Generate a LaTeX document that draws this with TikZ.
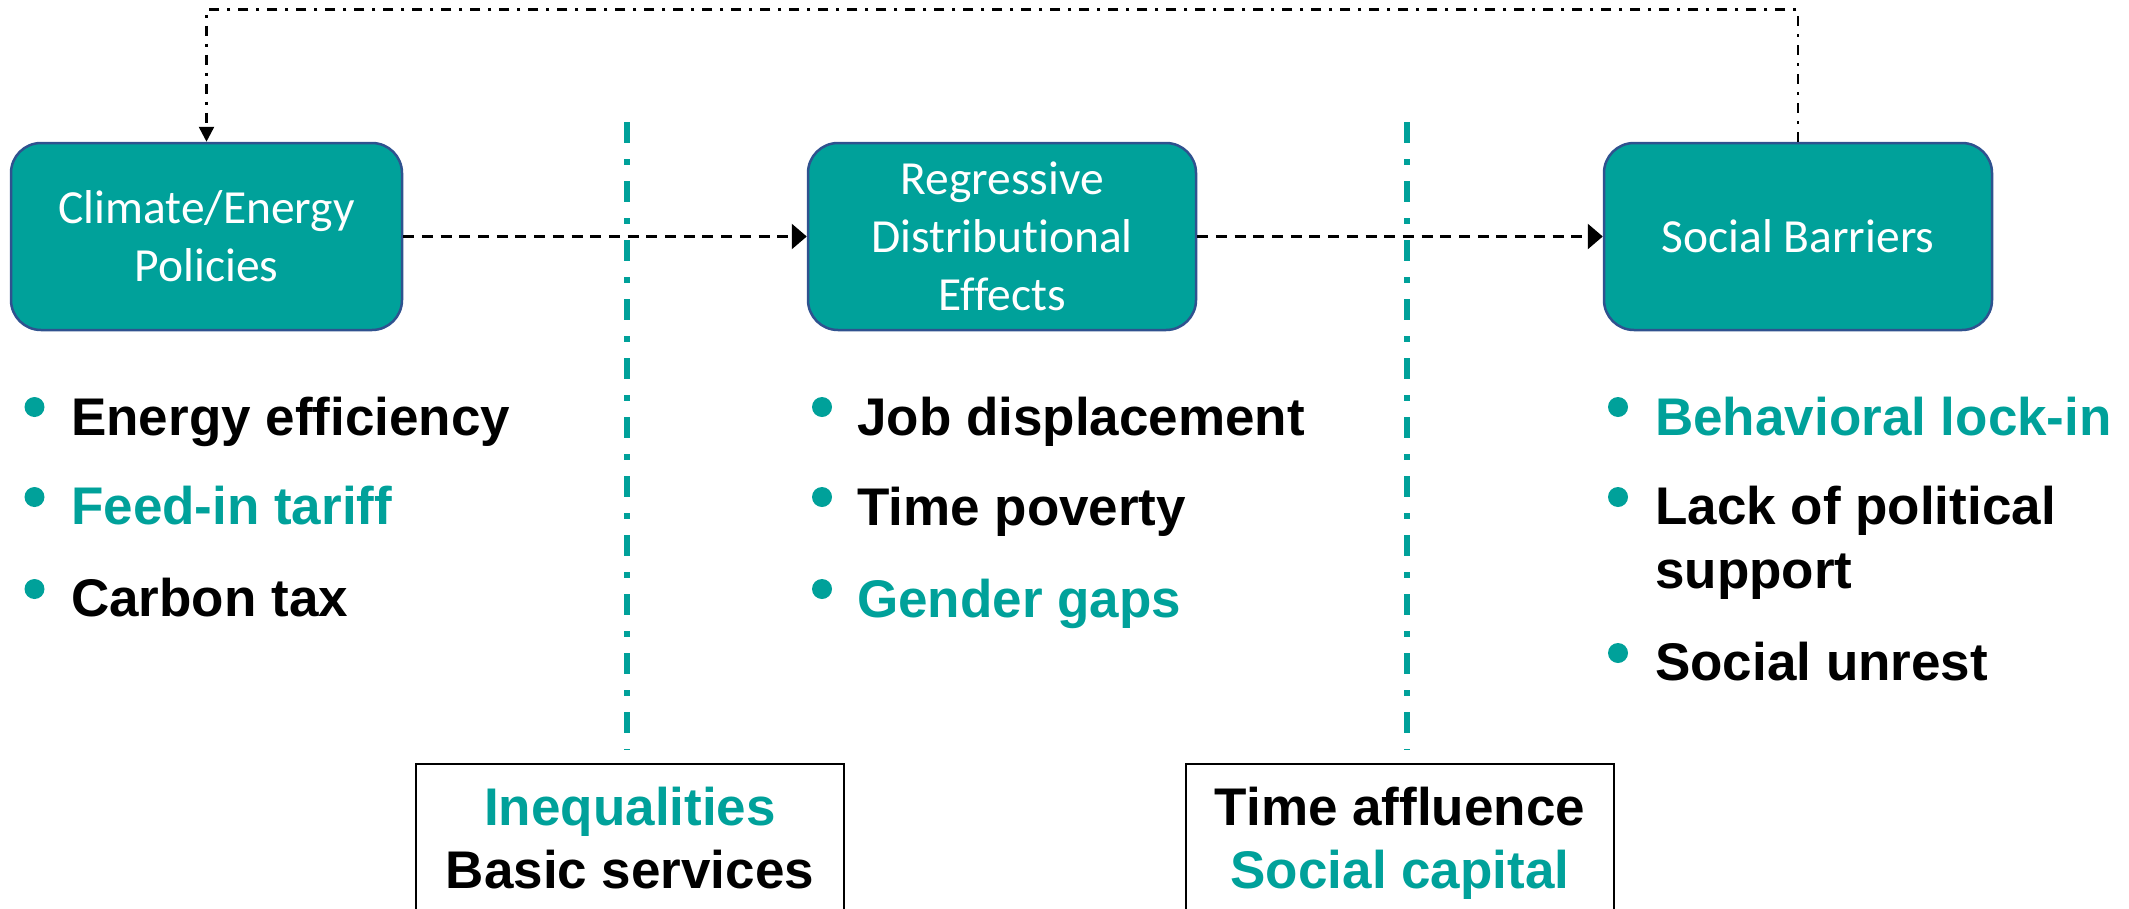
\documentclass[tikz,border=0pt]{standalone}
\usepackage{fontspec}
\setmainfont{Liberation Sans}
\newfontfamily\boxfont{Carlito}[Ligatures=NoCommon]
\usetikzlibrary{arrows.meta}
\definecolor{tealc}{RGB}{0,161,154}
\definecolor{boxline}{RGB}{47,82,143}
\tikzset{
  policybox/.style={rectangle, rounded corners=30pt, fill=tealc, draw=boxline, line width=2.5pt,
    text=white, align=center, font=\boxfont\fontsize{47.5}{57.7}\selectfont,
    minimum width=388pt, minimum height=187pt, inner sep=0pt},
  itemtext/.style={anchor=base west, inner sep=0pt, font=\bfseries\fontsize{53}{64}\selectfont},
  centertext/.style={anchor=base, inner sep=0pt, font=\bfseries\fontsize{53}{64}\selectfont},
  bulletdot/.style={circle, fill=tealc, minimum size=20pt, inner sep=0pt},
  flow/.style={line width=2.8pt, dash pattern=on 11pt off 7.7pt, -{Triangle[length=15pt,width=25pt]}},
  feedback/.style={line width=2.5pt, dash pattern=on 10pt off 8pt on 3pt off 8pt, -{Triangle[length=15pt,width=15pt]}},
  divider/.style={tealc, line width=5.3pt, dash pattern=on 21pt off 16pt on 5.5pt off 16.5pt},
  framebox/.style={rectangle, draw=black, line width=2.5pt, fill=white, minimum width=428pt, minimum height=200pt, inner sep=0pt}
}
\begin{document}
\begin{tikzpicture}[x=1pt,y=-1pt]
\useasboundingbox (0,0) rectangle (2129,908);
\clip (0,0) rectangle (2129,908);

% dividers
\coordinate (d1t) at (627,122); \coordinate (d1b) at (627,750);
\coordinate (d2t) at (1407,122); \coordinate (d2b) at (1407,750);
\draw[divider] (d1t) -- (d1b);
\draw[divider] (d2t) -- (d2b);

% main boxes
\node[policybox, minimum width=391pt] (b1) at (206.5,236.5) {Climate/Energy\\Policies};
\node[policybox] (b2) at (1002,236.5) {Regressive\\Distributional\\Effects};
\node[policybox] (b3) at (1798,236.5) {Social Barriers};

% connectors
\draw[flow] (b1.east) -- (b2.west);
\draw[flow] (b2.east) -- (b3.west);
\coordinate (fbR) at (1798,9.5);
\coordinate (fbL) at (206.5,9.5);
\draw[feedback] (b3.north) -- (fbR) -- (fbL) -- (b1.north);

% left column
\node[bulletdot] (l1d) at (34.5,407) {};
\node[itemtext] (l1) at (71,435) {Energy efficiency};
\node[bulletdot] (l2d) at (34.5,497) {};
\node[itemtext, text=tealc] (l2) at (71,524) {Feed-in tariff};
\node[bulletdot] (l3d) at (34.5,589) {};
\node[itemtext] (l3) at (71,616) {Carbon tax};

% middle column
\node[bulletdot] (m1d) at (822,407) {};
\node[itemtext] (m1) at (857,435) {Job displacement};
\node[bulletdot] (m2d) at (822,497) {};
\node[itemtext] (m2) at (857,525) {Time poverty};
\node[bulletdot] (m3d) at (822,589) {};
\node[itemtext, text=tealc] (m3) at (857,617) {Gender gaps};

% right column
\node[bulletdot] (r1d) at (1618,407) {};
\node[itemtext, text=tealc] (r1) at (1655,435) {Behavioral lock-in};
\node[bulletdot] (r2d) at (1618,497) {};
\node[itemtext] (r2) at (1655,524) {Lack of political};
\node[itemtext] (r2b) at (1655,588) {support};
\node[bulletdot] (r3d) at (1618,653) {};
\node[itemtext] (r3) at (1655,680) {Social unrest};

% bottom boxes
\node[framebox] (fa) at (630,864) {};
\node[centertext, text=tealc] (fa1) at (630,825) {Inequalities};
\node[centertext] (fa2) at (630,888) {Basic services};
\node[framebox] (fb) at (1400,864) {};
\node[centertext] (fb1) at (1400,825) {Time affluence};
\node[centertext, text=tealc] (fb2) at (1400,888) {Social capital};
\end{tikzpicture}
\end{document}
